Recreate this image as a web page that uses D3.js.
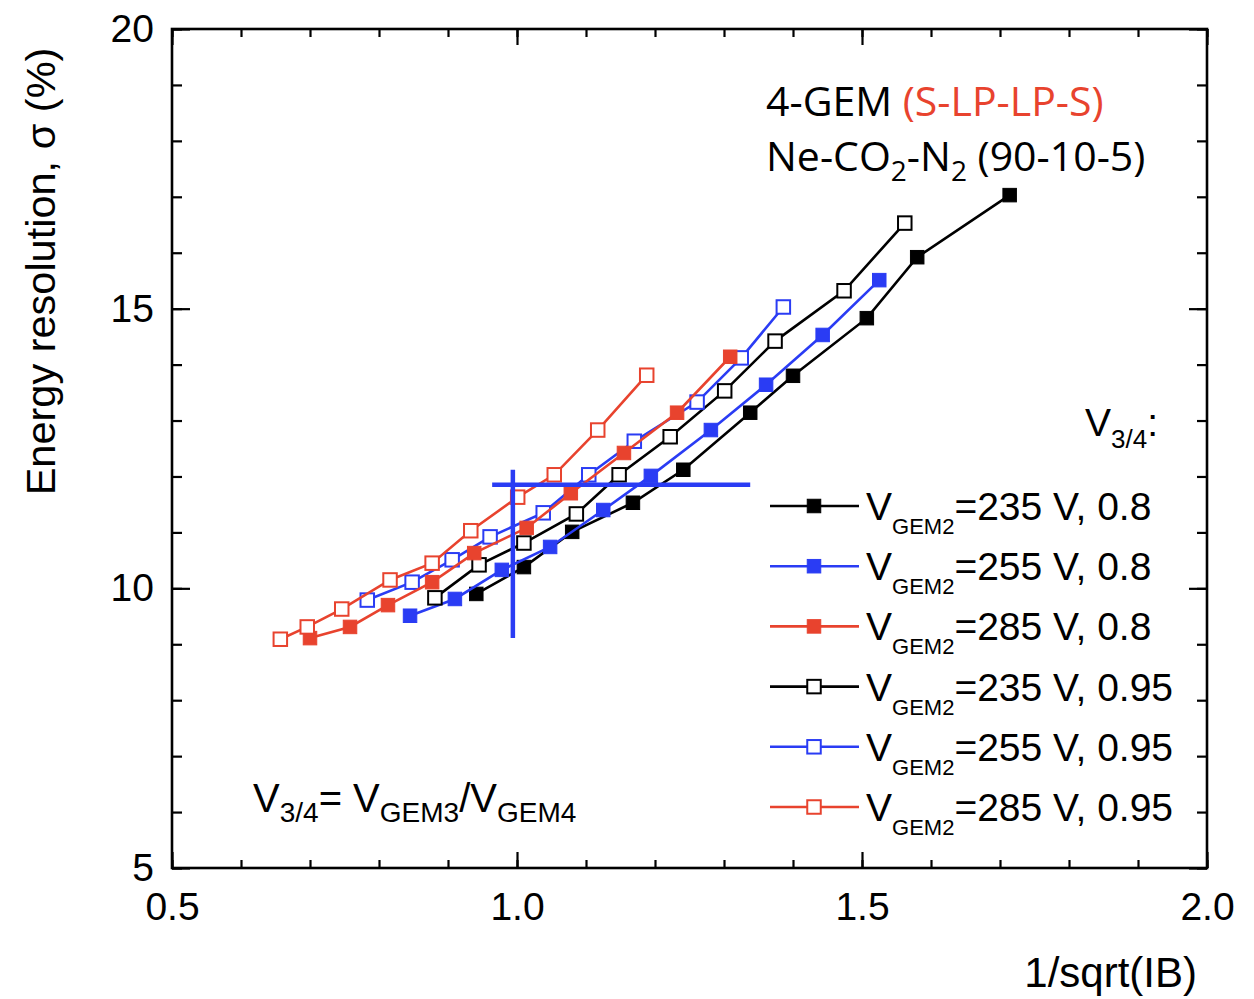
<!DOCTYPE html>
<html>
<head>
<meta charset="utf-8">
<script src="https://cdn.jsdelivr.net/npm/d3@7"></script>
<style>
  html, body { margin: 0; padding: 0; background: #fff; }
  svg { display: block; }
  text { font-family: "Liberation Sans", Arial, sans-serif; fill: #000; }
</style>
</head>
<body>
<svg id="chart" width="1254" height="999"></svg>
<script>
// ---------------- data ----------------
const seriesNames = ["235 V, 0.8", "255 V, 0.8", "285 V, 0.8", "235 V, 0.95", "255 V, 0.95", "285 V, 0.95"];

const x235_080 = [0.941, 1.010, 1.080, 1.168, 1.241, 1.338, 1.400, 1.507, 1.580, 1.714];
const y235_080 = [9.90, 10.38, 11.01, 11.53, 12.12, 13.14, 13.80, 14.83, 15.92, 17.03];

const x255_080 = [0.845, 0.910, 0.978, 1.048, 1.125, 1.194, 1.281, 1.361, 1.443, 1.525];
const y255_080 = [9.51, 9.81, 10.33, 10.74, 11.40, 12.01, 12.83, 13.64, 14.53, 15.51];

const x285_080 = [0.700, 0.758, 0.813, 0.877, 0.938, 1.014, 1.078, 1.155, 1.232, 1.309];
const y285_080 = [9.11, 9.31, 9.70, 10.11, 10.63, 11.08, 11.70, 12.42, 13.14, 14.14];

const x235_095 = [0.881, 0.945, 1.010, 1.086, 1.148, 1.222, 1.301, 1.374, 1.474, 1.562];
const y235_095 = [9.83, 10.42, 10.81, 11.33, 12.03, 12.71, 13.53, 14.42, 15.32, 16.53];

const x255_095 = [0.783, 0.848, 0.906, 0.961, 1.038, 1.104, 1.170, 1.261, 1.325, 1.386];
const y255_095 = [9.79, 10.11, 10.51, 10.92, 11.35, 12.03, 12.63, 13.33, 14.12, 15.03];

const x285_095 = [0.657, 0.696, 0.746, 0.816, 0.877, 0.933, 1.001, 1.054, 1.117, 1.188];
const y285_095 = [9.09, 9.31, 9.63, 10.15, 10.45, 11.03, 11.63, 12.03, 12.83, 13.81];

// blue cross-hair (operating point marker)
const crossH = { x: [0.964, 1.338], y: [11.85, 11.85] };
const crossV = { x: [0.994, 0.994], y: [9.11, 12.12] };

const xDomain = [0.5, 2.0];
const yDomain = [5, 20];
const xTickLabels = ["0.5", "1.0", "1.5", "2.0"];
const yTickLabels = ["5", "10", "15", "20"];

// ---------------- styles ----------------
const BLACK = "#000000", BLUE = "#2a3cf4", RED = "#e8432e";
const seriesColors = [BLACK, BLUE, RED, BLACK, BLUE, RED];
const seriesOpen   = [false, false, false, true, true, true];
const seriesX = [x235_080, x255_080, x285_080, x235_095, x255_095, x285_095];
const seriesY = [y235_080, y255_080, y285_080, y235_095, y255_095, y285_095];

// ---------------- layout ----------------
const svg = d3.select("#chart");
const x = d3.scaleLinear().domain(xDomain).range([172, 1207]);
const y = d3.scaleLinear().domain(yDomain).range([868, 29]);

const minorX = d3.range(5, 21).map(d => d / 10);
const majorX = xTickLabels.map(Number);
const minorY = d3.range(5, 21);
const majorY = yTickLabels.map(Number);

function styleAxis(g) {
  g.select(".domain").remove();
  g.selectAll(".tick line").attr("stroke", "#000").attr("stroke-width", 2.2);
}

// bottom
svg.append("g").attr("transform", `translate(0,${y(5)})`)
  .call(d3.axisBottom(x).tickValues(minorX).tickSize(-8).tickFormat(""))
  .call(styleAxis);
svg.append("g").attr("transform", `translate(0,${y(5)})`)
  .call(d3.axisBottom(x).tickValues(majorX).tickSize(-16).tickPadding(24)
        .tickFormat((d, i) => xTickLabels[i]))
  .call(styleAxis)
  .call(g => g.selectAll("text").attr("font-size", 39).attr("fill", "#000"));
// top
svg.append("g").attr("transform", `translate(0,${y(20)})`)
  .call(d3.axisTop(x).tickValues(minorX).tickSize(-8).tickFormat(""))
  .call(styleAxis);
svg.append("g").attr("transform", `translate(0,${y(20)})`)
  .call(d3.axisTop(x).tickValues(majorX).tickSize(-16).tickFormat(""))
  .call(styleAxis);
// left
svg.append("g").attr("transform", `translate(${x(0.5)},0)`)
  .call(d3.axisLeft(y).tickValues(minorY).tickSize(-10).tickFormat(""))
  .call(styleAxis);
svg.append("g").attr("transform", `translate(${x(0.5)},0)`)
  .call(d3.axisLeft(y).tickValues(majorY).tickSize(-18).tickPadding(18)
        .tickFormat((d, i) => yTickLabels[i]))
  .call(styleAxis)
  .call(g => g.selectAll("text").attr("font-size", 39).attr("fill", "#000"));
// right
svg.append("g").attr("transform", `translate(${x(2.0)},0)`)
  .call(d3.axisRight(y).tickValues(minorY).tickSize(-10).tickFormat(""))
  .call(styleAxis);
svg.append("g").attr("transform", `translate(${x(2.0)},0)`)
  .call(d3.axisRight(y).tickValues(majorY).tickSize(-18).tickFormat(""))
  .call(styleAxis);

svg.append("rect")
  .attr("x", x(0.5)).attr("y", y(20))
  .attr("width", x(2.0) - x(0.5)).attr("height", y(5) - y(20))
  .attr("fill", "none").attr("stroke", "#000").attr("stroke-width", 2.6);

// ---------------- series ----------------
const line = d3.line().x(d => x(d[0])).y(d => y(d[1]));
const MS = 13.5;
const order = [0, 1, 3, 4, 2, 5];
order.forEach(i => {
  const pts = seriesX[i].map((v, k) => [v, seriesY[i][k]]);
  const g = svg.append("g");
  g.append("path").datum(pts).attr("d", line)
    .attr("fill", "none").attr("stroke", seriesColors[i]).attr("stroke-width", 2.6);
  g.selectAll("rect").data(pts).join("rect")
    .attr("x", d => x(d[0]) - MS / 2).attr("y", d => y(d[1]) - MS / 2)
    .attr("width", MS).attr("height", MS)
    .attr("fill", seriesOpen[i] ? "#fff" : seriesColors[i])
    .attr("stroke", seriesColors[i]).attr("stroke-width", seriesOpen[i] ? 2 : 1);
});

// blue cross-hair
[crossH, crossV].forEach(c => {
  svg.append("path").datum(c.x.map((v, k) => [v, c.y[k]])).attr("d", line)
    .attr("fill", "none").attr("stroke", BLUE).attr("stroke-width", 4.5);
});

// ---------------- legend ----------------
const legendY0 = 506, legendDY = 60.2;
seriesNames.forEach((name, i) => {
  const ly = legendY0 + i * legendDY;
  const g = svg.append("g");
  g.append("line").attr("x1", 770).attr("x2", 859).attr("y1", ly).attr("y2", ly)
    .attr("stroke", seriesColors[i]).attr("stroke-width", 2.6);
  g.append("rect").attr("x", 814 - MS / 2).attr("y", ly - MS / 2)
    .attr("width", MS).attr("height", MS)
    .attr("fill", seriesOpen[i] ? "#fff" : seriesColors[i])
    .attr("stroke", seriesColors[i]).attr("stroke-width", seriesOpen[i] ? 2 : 1);
  const t = g.append("text").attr("x", 866).attr("y", ly + 14).attr("font-size", 39);
  t.append("tspan").text("V");
  t.append("tspan").attr("font-size", 22).attr("dy", 14).text("GEM2");
  t.append("tspan").attr("dy", -14).text("=" + name);
});

// V3/4: header
{
  const t = svg.append("text").attr("x", 1085).attr("y", 436).attr("font-size", 39);
  t.append("tspan").text("V");
  t.append("tspan").attr("font-size", 26).attr("dy", 12).text("3/4");
  t.append("tspan").attr("dy", -12).text(":");
}

// ---------------- annotations ----------------
{
  const t = svg.append("text").attr("x", 766).attr("y", 116).attr("font-size", 41)
    .style("font-family", "'Open Sans', sans-serif");
  t.append("tspan").text("4-GEM ");
  t.append("tspan").attr("fill", RED).style("fill", RED).text("(S-LP-LP-S)");
}
{
  const t = svg.append("text").attr("x", 766).attr("y", 171).attr("font-size", 41)
    .style("font-family", "'Open Sans', sans-serif");
  t.append("tspan").text("Ne-CO");
  t.append("tspan").attr("font-size", 28).attr("dy", 10).text("2");
  t.append("tspan").attr("dy", -10).text("-N");
  t.append("tspan").attr("font-size", 28).attr("dy", 10).text("2");
  t.append("tspan").attr("dy", -10).text(" (90-10-5)");
}
{
  const t = svg.append("text").attr("x", 253).attr("y", 812).attr("font-size", 40);
  t.append("tspan").text("V");
  t.append("tspan").attr("font-size", 28).attr("dy", 10).text("3/4");
  t.append("tspan").attr("dy", -10).text("= V");
  t.append("tspan").attr("font-size", 28).attr("dy", 10).text("GEM3");
  t.append("tspan").attr("dy", -10).text("/V");
  t.append("tspan").attr("font-size", 28).attr("dy", 10).text("GEM4");
}

// axis titles
svg.append("text")
  .attr("transform", `translate(55,${(48 + 495) / 2}) rotate(-90)`)
  .attr("text-anchor", "middle").attr("font-size", 41.5)
  .text("Energy resolution, σ (%)");
svg.append("text").attr("x", 1197).attr("y", 987).attr("text-anchor", "end")
  .attr("font-size", 42).text("1/sqrt(IB)");
</script>
</body>
</html>
